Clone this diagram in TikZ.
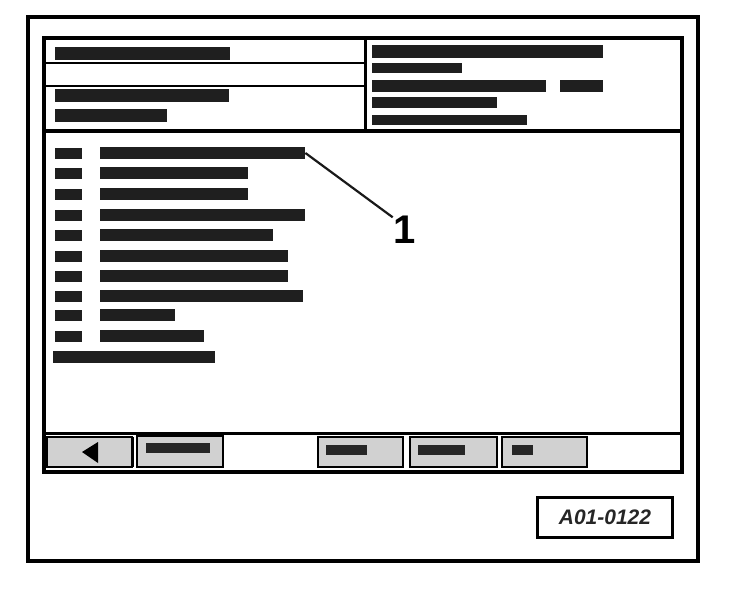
\documentclass[tikz,border=0pt]{standalone}
\usepackage{fontspec}
\setmainfont{Liberation Sans}
\begin{document}
\begin{tikzpicture}[x=1pt,y=-1pt,
  bar/.style={fill=black!88, draw=none, rectangle, inner sep=0pt, minimum height=12pt, anchor=west},
  sbar/.style={fill=black!88, draw=none, rectangle, inner sep=0pt, minimum height=11pt, minimum width=27pt, anchor=west},
  btn/.style={fill=black!18, draw=black, line width=2pt},
  btnbar/.style={fill=black!85, draw=none}
]
\useasboundingbox (0,0) rectangle (752,598);
% outer frame
\draw[line width=4pt] (28,17) rectangle (698,561);
% inner screen
\draw[line width=3.5pt] (44,38) rectangle (682,472);
% header
\draw[line width=3.5pt] (44,131) -- (682,131);
\draw[line width=3pt] (365,38) -- (365,131);
\draw[line width=2.5pt] (44,63) -- (365,63);
\draw[line width=2.5pt] (44,86) -- (365,86);
% left header bars
\fill[black!88] (55,47) rectangle (230,60);
\fill[black!88] (55,89) rectangle (229,102);
\fill[black!88] (55,109) rectangle (167,122);
% right header bars
\fill[black!88] (372,45) rectangle (603,58);
\fill[black!88] (372,63) rectangle (462,73);
\fill[black!88] (372,80) rectangle (546,92);
\fill[black!88] (560,80) rectangle (603,92);
\fill[black!88] (372,97) rectangle (497,108);
\fill[black!88] (372,115) rectangle (527,125);
% list rows
\foreach \y/\w [count=\i] in {153/205,173/148,194/148,215/205,235/173,256/188,276/188,296/203,315/75,336/104}{
  \node[sbar] (s\i) at (55,\y) {};
  \node[bar, minimum width=\w pt] (r\i) at (100,\y) {};
}
\node[bar, minimum width=162pt] (r11) at (53,357) {};
% callout
\node[font=\bfseries\fontsize{40}{40}\selectfont, inner sep=0pt, anchor=base] (one) at (405,243) {1};
\draw[line width=2.2pt, black!90] (r1.east) -- ([shift={(-1,2)}]one.north west);
% button bar
\draw[line width=3pt] (44,433) -- (682,433);
\draw[btn] (47,437) rectangle (132,467);
\draw[line width=3pt] (132,437) -- (132,467);
\fill[black] (82,452) -- (98,442) -- (98,463) -- cycle;
\draw[btn] (137,436) rectangle (223,467);
\fill[btnbar] (146,443) rectangle (210,453);
\draw[btn] (318,437) rectangle (403,467);
\fill[btnbar] (326,445) rectangle (367,455);
\draw[btn] (410,437) rectangle (497,467);
\fill[btnbar] (418,445) rectangle (465,455);
\draw[btn] (502,437) rectangle (587,467);
\fill[btnbar] (512,445) rectangle (533,455);
% figure label
\node[draw, line width=3pt, minimum width=135pt, minimum height=40pt, inner sep=0pt,
      font=\bfseries\itshape\fontsize{21}{21}\selectfont, text=black!85] (lbl) at (605,517) {A01-0122};
\end{tikzpicture}
\end{document}
